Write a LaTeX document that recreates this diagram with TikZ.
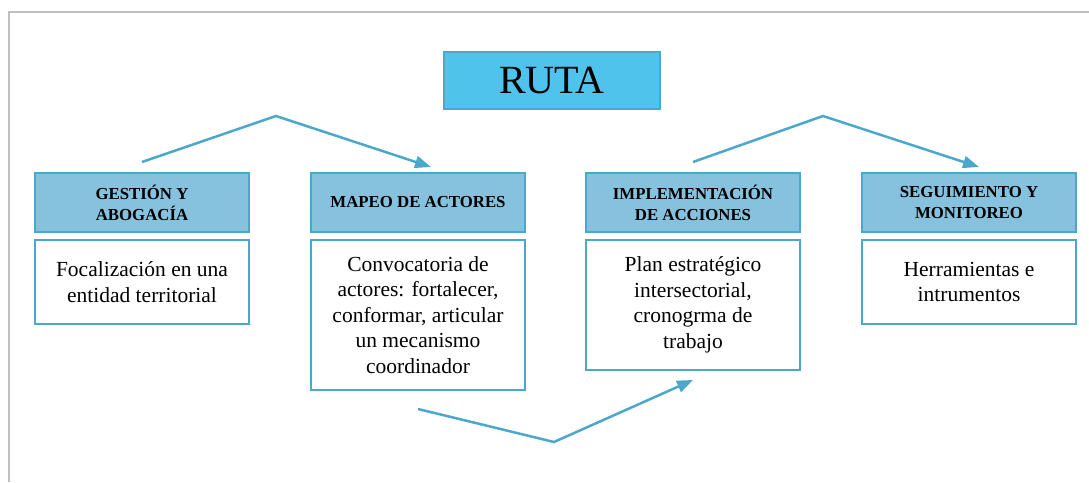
\documentclass[tikz,border=0pt]{standalone}
\usepackage{fontspec}
\setmainfont{Liberation Serif}
\usepackage{xcolor}
\usepackage{tikz}
\usetikzlibrary{arrows.meta,
                positioning}

\definecolor{rutafill}{HTML}{4FC3EC}
\definecolor{cabfill}{HTML}{86C1DD}
\definecolor{azulborde}{HTML}{4BA8CC}
\definecolor{marco}{HTML}{BFBFBF}

\tikzset{cabecera/.style={draw=azulborde, fill=cabfill, line width=2pt,
                          minimum width=214pt, minimum height=59pt,
                          align=center, inner sep=0pt,
                          font=\fontsize{16.8}{21}\selectfont\bfseries},
         cuerpo/.style={draw=azulborde, fill=white, line width=2pt,
                        minimum width=214pt, align=center, inner sep=0pt,
                        font=\fontsize{21.5}{25.5}\selectfont},
         flecha/.style={azulborde, line width=2.5pt,
                        -{Triangle[length=16pt,width=12pt]}}}

\begin{document}
\begin{tikzpicture}[x=1pt,y=-1pt]
\useasboundingbox (0,0) rectangle (1089,482);
\draw[marco,line width=2pt] (9,482) -- (9,12) -- (1089,12);

\node[draw=azulborde, fill=rutafill, line width=2pt, minimum width=216pt,
      minimum height=57pt, font=\fontsize{40}{40}\selectfont] (ruta) at (552,80.5) {RUTA};

% cabeceras
\node[cabecera] (gestion) at (142,202.5) {GESTIÓN Y\\ABOGACÍA};
\node[cabecera, right=60pt of gestion] (mapeo) {MAPEO DE ACTORES};
\node[cabecera, right=59pt of mapeo] (implem) {IMPLEMENTACIÓN\\DE ACCIONES};
\node[cabecera, right=60pt of implem] (seguim) {SEGUIMIENTO Y\\MONITOREO};

% contenidos
\node[cuerpo, minimum height=84pt, below=6pt of gestion] (foco)
  {Focalización en una\\entidad territorial};
\node[cuerpo, minimum height=150pt, below=6pt of mapeo] (convoca)
  {Convocatoria de\\actores: fortalecer,\\conformar, articular\\un mecanismo\\coordinador};
\node[cuerpo, minimum height=130pt, below=6pt of implem] (plan)
  {Plan estratégico\\intersectorial,\\cronogrma de\\trabajo};
\node[cuerpo, minimum height=84pt, below=6pt of seguim] (herram)
  {Herramientas e\\intrumentos};

% flechas
\coordinate (ini1) at ([yshift=10pt]gestion.north);
\coordinate (pico1) at (276,116);
\coordinate (fin1) at ([xshift=13pt,yshift=5pt]mapeo.north);
\coordinate (ini2) at ([yshift=10pt]implem.north);
\coordinate (pico2) at (823,116);
\coordinate (fin2) at ([xshift=10pt,yshift=5pt]seguim.north);
\coordinate (ini3) at ([yshift=-18pt]convoca.south);
\coordinate (valle) at (554,442);
\coordinate (fin3) at ([yshift=-9pt]plan.south);

\draw[flecha] (ini1) -- (pico1) -- (fin1);
\draw[flecha] (ini2) -- (pico2) -- (fin2);
\draw[flecha] (ini3) -- (valle) -- (fin3);
\end{tikzpicture}
\end{document}
